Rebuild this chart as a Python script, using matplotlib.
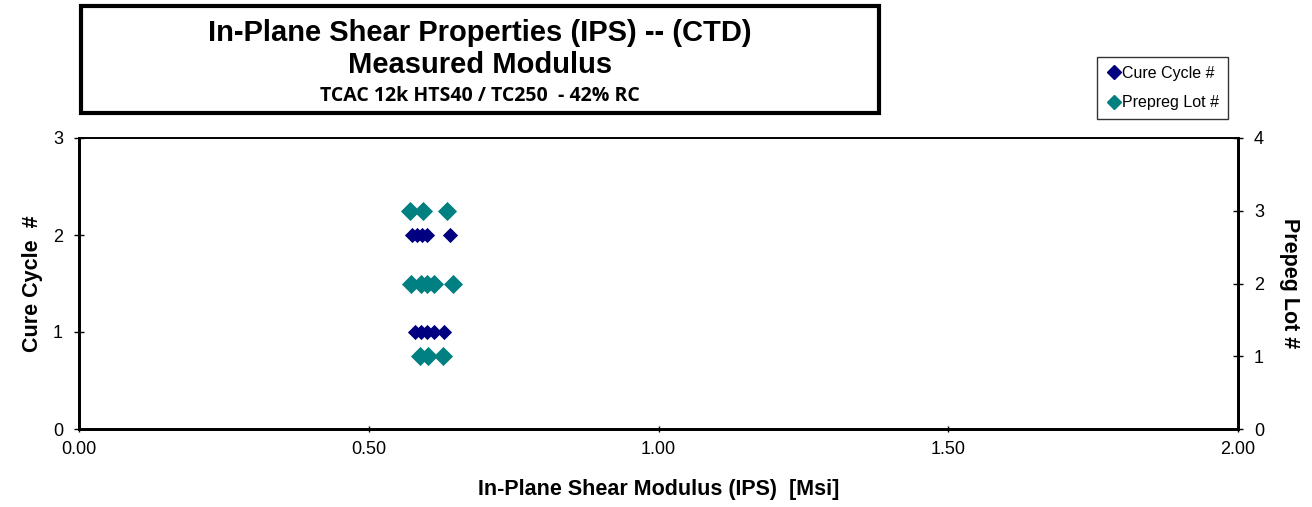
import matplotlib
matplotlib.use("Agg")
import matplotlib.pyplot as plt
from matplotlib.patches import Rectangle
from matplotlib.lines import Line2D

# Data
cure_cycle = [2, 2, 2, 2, 2, 1, 1, 1, 1, 1]
cure_modulus = [0.575, 0.584, 0.592, 0.600, 0.640, 0.580, 0.590, 0.600, 0.612, 0.630]
prepreg_lot = [3, 3, 3, 2, 2, 2, 2, 2, 1, 1, 1]
prepreg_modulus = [0.571, 0.594, 0.635, 0.573, 0.590, 0.600, 0.612, 0.645, 0.588, 0.602, 0.628]

x_ticks = [0.0, 0.5, 1.0, 1.5, 2.0]
left_ticks = [0, 1, 2, 3]
right_ticks = [0, 1, 2, 3, 4]

navy = "#000080"
teal = "#008080"

plt.rcParams['font.family'] = ['Liberation Sans', 'DejaVu Sans']

W, H = 1312, 507
fig = plt.figure(figsize=(W / 100, H / 100), dpi=100)
ax = fig.add_axes([79 / W, 1 - 429 / H, (1238 - 79) / W, (429 - 138) / H])
ax2 = ax.twinx()

ax.scatter(cure_modulus, cure_cycle, marker='D', s=60, color=navy, zorder=3, linewidths=0)
ax2.scatter(prepreg_modulus, prepreg_lot, marker='D', s=95, color=teal, zorder=3, linewidths=0)

ax.set_xlim(0, 2)
ax.set_ylim(0, 3)
ax2.set_ylim(0, 4)
ax.set_xticks(x_ticks)
ax.set_xticklabels([f"{v:.2f}" for v in x_ticks])
ax.set_yticks(left_ticks)
ax2.set_yticks(right_ticks)

for a in (ax, ax2):
    for s in a.spines.values():
        s.set_linewidth(2)
    a.spines['top'].set_linewidth(1.2)
ax.tick_params(axis='y', direction='inout', length=7, width=1, labelsize=13, colors='black', pad=8)
ax.tick_params(axis='x', direction='inout', length=5, width=1, labelsize=13, pad=6)
ax2.tick_params(axis='y', direction='inout', length=7, width=1, labelsize=13, pad=8)

ax.set_xlabel("In-Plane Shear Modulus (IPS)  [Msi]", fontsize=15.5, fontweight='bold', labelpad=15)
ax.set_ylabel("Cure Cycle  #", fontsize=15.5, fontweight='bold', labelpad=7)
ax2.set_ylabel("Prepeg Lot #", fontsize=15.5, fontweight='bold', rotation=-90, labelpad=26)

# Title box
fig.patches.append(Rectangle((81 / W, 1 - 113 / H), (879 - 81) / W, (113 - 6) / H,
                             transform=fig.transFigure, fill=False, edgecolor='black', linewidth=3))
cx = 480 / W
fig.text(cx, 1 - 33 / H, "In-Plane Shear Properties (IPS) -- (CTD)", ha='center', va='center',
         fontsize=21, fontweight='bold')
fig.text(cx, 1 - 65 / H, "Measured Modulus", ha='center', va='center',
         fontsize=21, fontweight='bold')
fig.text(cx, 1 - 96 / H, "TCAC 12k HTS40 / TC250  - 42% RC", ha='center', va='center',
         fontsize=14, fontweight='bold', family=['Open Sans', 'Liberation Sans'])

# Legend box
handles = [Line2D([], [], marker='D', color=navy, linestyle='none', markersize=7),
           Line2D([], [], marker='D', color=teal, linestyle='none', markersize=7)]
leg = fig.legend(handles, ["Cure Cycle #", "Prepreg Lot #"], loc='upper left',
                 bbox_to_anchor=(1097 / W, 1 - 57 / H), frameon=True, fancybox=False,
                 edgecolor='black', fontsize=11.5, handletextpad=0.0, handlelength=1.0,
                 borderpad=0.55, labelspacing=0.9, borderaxespad=0)
leg.get_frame().set_linewidth(1)

fig.savefig("out.png", dpi=100)
